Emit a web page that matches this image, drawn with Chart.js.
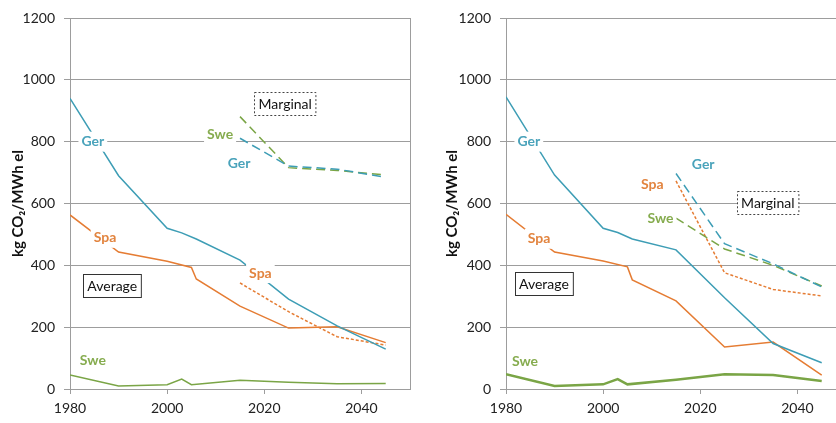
<!DOCTYPE html>
<html>
<head>
<meta charset="utf-8">
<script src="https://cdn.jsdelivr.net/npm/chart.js@4"></script>
<style>
  html, body { margin: 0; padding: 0; background: #fff; overflow: hidden; }
  #wrap { position: relative; width: 836px; height: 423px; overflow: hidden; }
  .panel { position: absolute; top: 0; }
</style>
</head>
<body>
<div id="wrap">
  <div class="panel" style="left:0px"><canvas id="leftChart" width="418" height="423"></canvas></div>
  <div class="panel" style="left:434px"><canvas id="rightChart" width="420" height="423"></canvas></div>
</div>
<script>
// years for each kind of series
const gerYears = [1980, 1990, 2000, 2003, 2006, 2015, 2025, 2035, 2045];
const spaYears = [1980, 1990, 2000, 2005, 2006, 2015, 2025, 2035, 2045];
const sweYears = [1980, 1990, 2000, 2003, 2005, 2015, 2025, 2035, 2045];
const margYears = [2015, 2025, 2035, 2045];

// left panel (kg CO2 / MWh el)
const leftGerAvg = [940, 690, 520, 505, 485, 417, 291, 204, 129];
const leftSpaAvg = [563, 443, 413, 393, 356, 268, 197, 201, 150];
const leftSweAvg = [45, 10, 14, 32, 14, 28, 22, 17, 18];
const leftGerMarg = [811, 721, 711, 685];
const leftSweMarg = [881, 716, 707, 692];
const leftSpaMarg = [343, 250, 169, 142];

// right panel
const rightGerAvg = [945, 692, 520, 506, 485, 450, 295, 147, 85];
const rightSpaAvg = [565, 443, 414, 395, 353, 285, 136, 152, 45];
const rightSweAvg = [48, 10, 15, 32, 15, 30, 48, 45, 26];
const rightGerMarg = [697, 470, 405, 330];
const rightSpaMarg = [673, 376, 322, 301];
const rightSweMarg = [553, 453, 400, 333];

const yTicks = [0, 200, 400, 600, 800, 1000, 1200];
const xTicks = [1980, 2000, 2020, 2040];

const TEAL = "#3d9db5", ORANGE = "#e57c33", GREEN = "#7aa546";
const TEAL_T = "#4aa3bb", ORANGE_T = "#e2843f", GREEN_T = "#86ac4f";
const GRID = "#9d9d9d";
const FONT = "Lato, 'Open Sans', sans-serif";

// text labels placed in data coordinates
const leftLabels = [
    { text: "Ger", x: 1984.7, y: 800, color: TEAL_T },
    { text: "Spa", x: 1987.2, y: 489, color: ORANGE_T },
    { text: "Swe", x: 1984.7, y: 91, color: GREEN_T },
    { text: "Swe", x: 2010.9, y: 822, color: GREEN_T },
    { text: "Ger", x: 2014.8, y: 731, color: TEAL_T },
    { text: "Spa", x: 2019.2, y: 375, color: ORANGE_T },
];
const leftBoxes = [
    { text: "Marginal", x: 2024.3, y: 922, dashed: true },
    { text: "Average", x: 1988.7, y: 335, dashed: false },
];
const rightLabels = [
    { text: "Ger", x: 1984.7, y: 800, color: TEAL_T },
    { text: "Spa", x: 1986.8, y: 486, color: ORANGE_T },
    { text: "Swe", x: 1983.9, y: 88, color: GREEN_T },
    { text: "Ger", x: 2020.6, y: 727, color: TEAL_T },
    { text: "Spa", x: 2010.1, y: 660, color: ORANGE_T },
    { text: "Swe", x: 2011.8, y: 550, color: GREEN_T },
];
const rightBoxes = [
    { text: "Marginal", x: 2033.9, y: 603, dashed: true },
    { text: "Average", x: 1987.8, y: 340, dashed: false },
];

function pairs(xs, ys) {
    return xs.map((x, i) => ({ x: x, y: ys[i] }));
}

function line(data, color, width, dash) {
    return {
        data: data,
        borderColor: color,
        borderWidth: width,
        borderDash: dash || [],
        pointRadius: 0,
        tension: 0,
        fill: false,
    };
}

// white-backed labels, boxes and the right frame line
const annotate = {
    id: "annotate",
    afterDatasetsDraw(chart, args, opts) {
        const ctx = chart.ctx;
        const xs = chart.scales.x, ys = chart.scales.y;
        const area = chart.chartArea;
        ctx.save();
        ctx.strokeStyle = GRID;
        ctx.lineWidth = 1;
        ctx.beginPath();
        ctx.moveTo(Math.round(area.right) + 0.5, area.top);
        ctx.lineTo(Math.round(area.right) + 0.5, area.bottom);
        ctx.stroke();

        ctx.textAlign = "center";
        ctx.textBaseline = "middle";
        ctx.font = "bold 14px " + FONT;
        opts.labels.forEach(l => {
            const px = xs.getPixelForValue(l.x), py = ys.getPixelForValue(l.y);
            const w = ctx.measureText(l.text).width;
            ctx.fillStyle = "#fff";
            ctx.fillRect(px - w / 2 - 3, py - 10, w + 6, 20);
            ctx.fillStyle = l.color;
            ctx.fillText(l.text, px, py);
        });

        ctx.font = "14px " + FONT;
        opts.boxes.forEach(b => {
            const px = xs.getPixelForValue(b.x), py = ys.getPixelForValue(b.y);
            const w = ctx.measureText(b.text).width;
            const bw = w + 8, bh = 23;
            const x0 = Math.round(px - bw / 2) + 0.5, y0 = Math.round(py - bh / 2) + 0.5;
            ctx.fillStyle = "#fff";
            ctx.fillRect(x0, y0, bw, bh);
            ctx.strokeStyle = b.dashed ? "#444" : "#333";
            ctx.setLineDash(b.dashed ? [2, 2] : []);
            ctx.strokeRect(x0, y0, bw, bh);
            ctx.setLineDash([]);
            ctx.fillStyle = "#111";
            ctx.fillText(b.text, px, py + 1);
        });
        ctx.restore();
    }
};

function makeChart(id, yWidth, datasets, labels, boxes) {
    return new Chart(document.getElementById(id), {
        type: "line",
        data: { datasets: datasets },
        options: {
            responsive: false,
            animation: false,
            devicePixelRatio: 1,
            layout: { padding: { top: 18, right: 8, left: 0, bottom: 0 } },
            plugins: {
                legend: { display: false },
                tooltip: { enabled: false },
                annotate: { labels: labels, boxes: boxes },
            },
            scales: {
                x: {
                    type: "linear",
                    min: 1980,
                    max: 2050,
                    afterBuildTicks: s => { s.ticks = xTicks.map(v => ({ value: v })); },
                    afterFit: s => { s.height = 34; },
                    ticks: {
                        color: "#222",
                        font: { family: FONT, size: 14 },
                        padding: 6,
                        maxRotation: 0,
                        callback: v => String(v),
                    },
                    grid: { drawOnChartArea: false, drawTicks: true, tickLength: 5, color: GRID },
                    border: { color: GRID },
                },
                y: {
                    min: 0,
                    max: 1200,
                    afterBuildTicks: s => { s.ticks = yTicks.map(v => ({ value: v })); },
                    afterFit: s => { s.width = yWidth; },
                    ticks: {
                        color: "#222",
                        font: { family: FONT, size: 14 },
                        padding: 9,
                        callback: v => String(v),
                    },
                    grid: { color: GRID, tickLength: 6 },
                    border: { color: GRID },
                    title: {
                        display: true,
                        text: "kg CO\u2082/MWh el",
                        color: "#111",
                        font: { family: FONT, size: 15, weight: "bold" },
                        padding: { top: 9, bottom: 0 },
                    },
                },
            },
        },
        plugins: [annotate],
    });
}

makeChart("leftChart", 70, [
    line(pairs(gerYears, leftGerAvg), TEAL, 1.5),
    line(pairs(spaYears, leftSpaAvg), ORANGE, 1.5),
    line(pairs(sweYears, leftSweAvg), GREEN, 1.5),
    line(pairs(margYears, leftGerMarg), TEAL, 1.5, [9, 5]),
    line(pairs(margYears, leftSweMarg), GREEN, 1.5, [9, 5]),
    line(pairs(margYears, leftSpaMarg), ORANGE, 1.5, [3, 2]),
], leftLabels, leftBoxes);

makeChart("rightChart", 72, [
    line(pairs(gerYears, rightGerAvg), TEAL, 1.5),
    line(pairs(spaYears, rightSpaAvg), ORANGE, 1.5),
    line(pairs(sweYears, rightSweAvg), GREEN, 2.5),
    line(pairs(margYears, rightGerMarg), TEAL, 1.5, [9, 5]),
    line(pairs(margYears, rightSweMarg), GREEN, 1.5, [9, 5]),
    line(pairs(margYears, rightSpaMarg), ORANGE, 1.5, [3, 2]),
], rightLabels, rightBoxes);
</script>
</body>
</html>
